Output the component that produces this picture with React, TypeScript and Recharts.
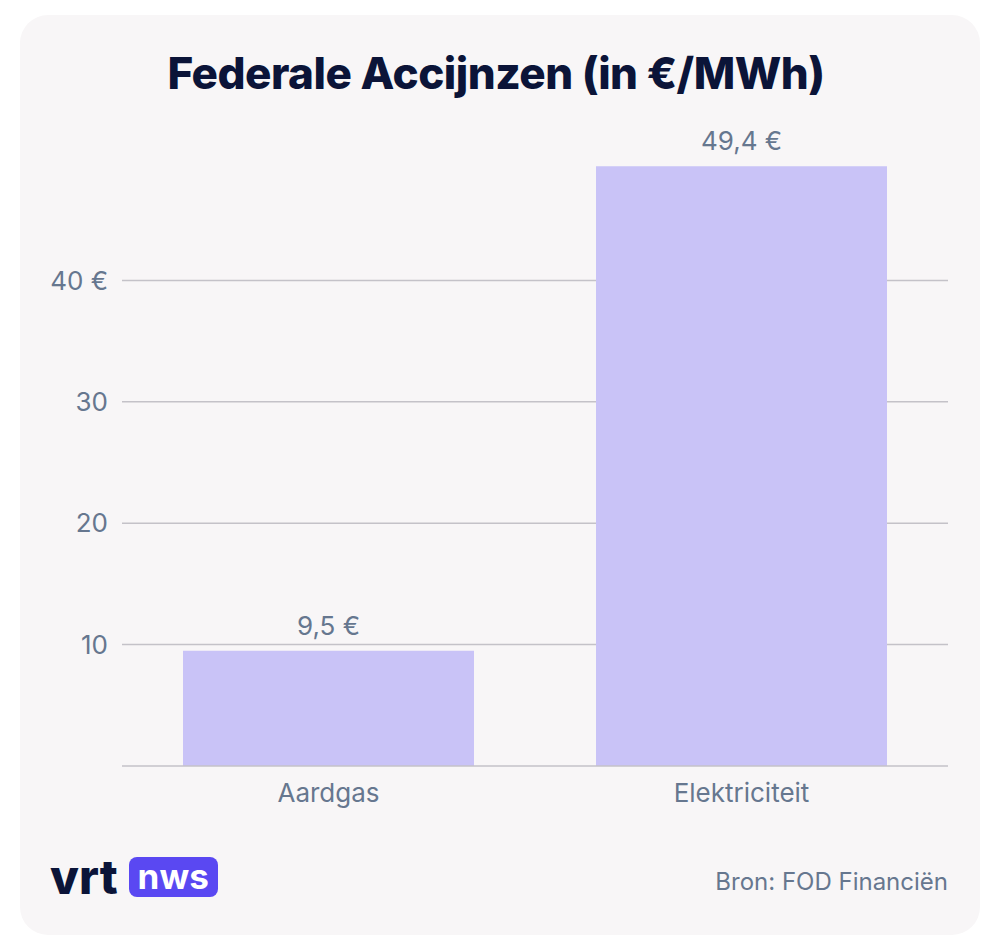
import React from 'react';
import { BarChart, Bar, XAxis, YAxis, CartesianGrid, LabelList } from 'recharts';

const categories = ['Aardgas', 'Elektriciteit'];
const values = [9.5, 49.4];
const yTicks = [10, 20, 30, 40];

const data = categories.map((name, i) => ({ name, value: values[i] }));

const FONT = 'Inter, "Noto Sans", sans-serif';
const GREY = '#66778f';

const fmtEuro = (v: number) => `${String(v).replace('.', ',')} €`;

const App: React.FC = () => {
  return (
    <div style={{ position: 'relative', width: 996, height: 952, background: '#fff', fontFamily: FONT }}>
      <style>{`body{margin:0}`}</style>
      <div
        style={{
          position: 'absolute',
          left: 20,
          top: 15,
          width: 960,
          height: 920,
          borderRadius: 28,
          background: '#f8f6f7',
        }}
      />
      <div
        style={{
          position: 'absolute',
          left: 20,
          top: 46,
          width: 952,
          textAlign: 'center',
          fontSize: 44,
          fontWeight: 800,
          color: '#0b1438',
          letterSpacing: -0.5,
        }}
      >
        Federale Accijnzen (in €/MWh)
      </div>
      <div style={{ position: 'absolute', left: 0, top: 0 }}>
        <BarChart
          width={996}
          height={952}
          data={data}
          margin={{ top: 159, right: 48, left: 0, bottom: 146 }}
          barCategoryGap={61}
        >
          <CartesianGrid vertical={false} stroke="#c4c2c8" strokeWidth={1.5} syncWithTicks />
          <YAxis
            width={122}
            domain={[0, 50]}
            ticks={yTicks}
            axisLine={false}
            tickLine={false}
            tickSize={0}
            tickMargin={14}
            tickFormatter={(v: number) => (v === 40 ? '40 €' : String(v))}
            tick={{ fill: GREY, fontSize: 26, fontFamily: FONT }}
          />
          <XAxis
            dataKey="name"
            height={40}
            tickLine={false}
            tickSize={0}
            tickMargin={18}
            axisLine={{ stroke: '#c4c2c8', strokeWidth: 1.5 }}
            tick={{ fill: GREY, fontSize: 26, fontFamily: FONT }}
          />
          <Bar dataKey="value" fill="#c9c3f7" isAnimationActive={false}>
            <LabelList
              dataKey="value"
              position="top"
              offset={16}
              formatter={(v: any) => fmtEuro(v)}
              style={{ fill: GREY, fontSize: 26, fontFamily: FONT }}
            />
          </Bar>
        </BarChart>
      </div>
      <div style={{ position: 'absolute', left: 50, top: 855, display: 'flex', alignItems: 'center' }}>
        <span style={{ fontSize: 47, fontWeight: 800, color: '#0b1438', letterSpacing: 0, lineHeight: '44px' }}>vrt</span>
        <span
          style={{
            marginLeft: 11,
            background: '#5a48f2',
            color: '#fff',
            borderRadius: 8,
            fontSize: 35,
            fontWeight: 700,
            lineHeight: '39px',
            padding: '0 9px 1px 9px',
          }}
        >
          nws
        </span>
      </div>
      <div
        style={{
          position: 'absolute',
          right: 48,
          top: 867,
          fontSize: 24,
          color: GREY,
        }}
      >
        Bron: FOD Financiën
      </div>
    </div>
  );
};

export default App;
